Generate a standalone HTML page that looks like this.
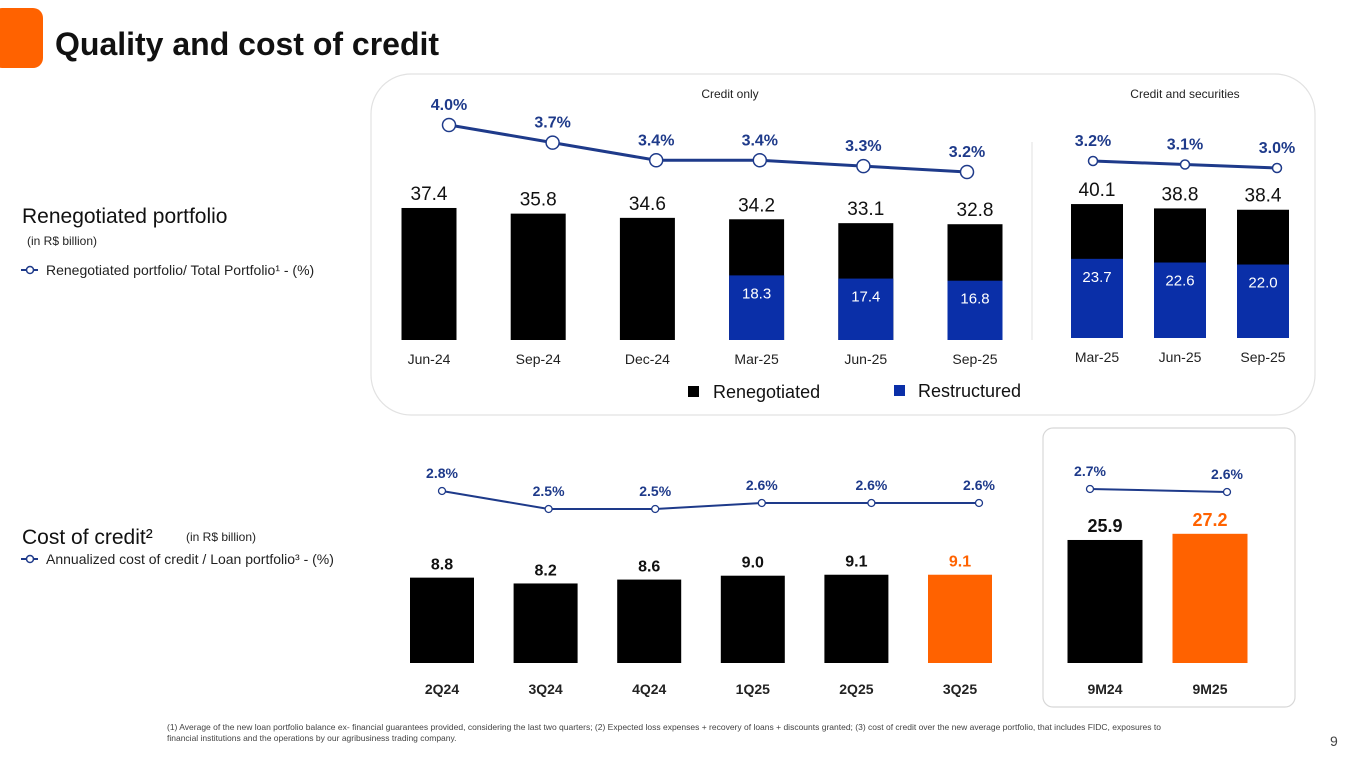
<!DOCTYPE html>
<html><head><meta charset="utf-8">
<style>
html,body{margin:0;padding:0;background:#fff;width:1365px;height:768px;overflow:hidden;font-family:"Liberation Sans","DejaVu Sans",sans-serif;}
svg{display:block}
</style></head>
<body>
<svg id="chart" width="1365" height="768" viewBox="0 0 1365 768" xmlns="http://www.w3.org/2000/svg">
  <rect x="-8" y="8" width="51" height="60" rx="10" fill="#ff6200"/>
  <text x="55" y="55" font-size="32" font-weight="bold" fill="#111">Quality and cost of credit</text>

  <text x="22" y="223" font-size="21" fill="#111">Renegotiated portfolio</text>
  <text x="27" y="245" font-size="12" fill="#222">(in R$ billion)</text>
  <g>
    <line x1="21" y1="270" x2="38" y2="270" stroke="#1e3a8a" stroke-width="2"/>
    <circle cx="30" cy="270" r="3.5" fill="#fff" stroke="#1e3a8a" stroke-width="1.5"/>
    <text x="46" y="275" font-size="14" fill="#222">Renegotiated portfolio/ Total Portfolio¹ - (%)</text>
  </g>

  <text x="22" y="544" font-size="21" fill="#111">Cost of credit²</text>
  <text x="186" y="541" font-size="12" fill="#222">(in R$ billion)</text>
  <g>
    <line x1="21" y1="559" x2="38" y2="559" stroke="#1e3a8a" stroke-width="2"/>
    <circle cx="30" cy="559" r="3.5" fill="#fff" stroke="#1e3a8a" stroke-width="1.5"/>
    <text x="46" y="564" font-size="14" fill="#222">Annualized cost of credit / Loan portfolio³ - (%)</text>
  </g>

  <rect x="371" y="74" width="944" height="341" rx="40" fill="none" stroke="#e2e2e2" stroke-width="1.2"/>
  <line x1="1032" y1="142" x2="1032" y2="340" stroke="#e0e0e0" stroke-width="1"/>
  <text x="730" y="98" font-size="12" fill="#222" text-anchor="middle">Credit only</text>
  <text x="1185" y="98" font-size="12" fill="#222" text-anchor="middle">Credit and securities</text>

  <rect x="1043" y="428" width="252" height="279" rx="10" fill="none" stroke="#d8d8d8" stroke-width="1.2"/>

  <g>
    <rect x="688" y="386" width="11" height="11" fill="#000"/>
    <text x="713" y="398" font-size="18" fill="#111">Renegotiated</text>
    <rect x="894" y="385" width="11" height="11" fill="#0a2fa8"/>
    <text x="918" y="397" font-size="18" fill="#111">Restructured</text>
  </g>

  <g id="g1"></g><g id="g2"></g><g id="g3"></g><g id="g4"></g>

  <text x="167" y="730" font-size="8.5" fill="#444"><tspan x="167">(1) Average of the new loan portfolio balance ex- financial guarantees provided, considering the last two quarters; (2) Expected loss expenses + recovery of loans + discounts granted; (3) cost of credit over the new average portfolio, that includes FIDC, exposures to</tspan><tspan x="167" dy="11">financial institutions and the operations by our agribusiness trading company.</tspan></text>
  <text x="1330" y="746" font-size="14" fill="#444">9</text>
</svg>
<script>
const renegCats = ["Jun-24","Sep-24","Dec-24","Mar-25","Jun-25","Sep-25"];
const renegTotal = [37.4,35.8,34.6,34.2,33.1,32.8];
const renegRestr = [null,null,null,18.3,17.4,16.8];
const renegPct = [4.0,3.7,3.4,3.4,3.3,3.2];

const secCats = ["Mar-25","Jun-25","Sep-25"];
const secTotal = [40.1,38.8,38.4];
const secRestr = [23.7,22.6,22.0];
const secPct = [3.2,3.1,3.0];

const costCats = ["2Q24","3Q24","4Q24","1Q25","2Q25","3Q25"];
const costVals = [8.8,8.2,8.6,9.0,9.1,9.1];
const costPct = [2.8,2.5,2.5,2.6,2.6,2.6];

const ytdCats = ["9M24","9M25"];
const ytdVals = [25.9,27.2];
const ytdPct = [2.7,2.6];

const NS="http://www.w3.org/2000/svg";
const BLUE="#0a2fa8", LBLUE="#1e3a8a", ORANGE="#ff6200";
function mk(parent,tag,attrs,text){const e=document.createElementNS(NS,tag);for(const k in attrs)e.setAttribute(k,attrs[k]);if(text!=null)e.textContent=text;parent.appendChild(e);return e;}

function drawStack(g,cats,tot,restr,pct,o){
  const xC=i=>o.x0+i*o.step;
  const xP=i=>o.lx0+i*o.lstep;
  const yB=v=>o.base-v*o.k;
  const yL=v=>o.ly0-(v-o.lv0)*o.lk;
  cats.forEach((c,i)=>{
    const b=mk(g,"rect",{x:xC(i)-o.w/2,y:yB(tot[i]),width:o.w,height:o.base-yB(tot[i]),fill:"#000"});
    
    
    const t=mk(g,"text",{x:xC(i),y:yB(tot[i])-8,"font-size":19,"text-anchor":"middle",fill:"#111"},tot[i].toFixed(1));
    
    
    if(restr[i]!=null){
      const r=mk(g,"rect",{x:xC(i)-o.w/2,y:yB(restr[i]),width:o.w,height:o.base-yB(restr[i]),fill:BLUE});
      
      
      const rt=mk(g,"text",{x:xC(i),y:yB(restr[i])+23,"font-size":15,"text-anchor":"middle",fill:"#fff"},restr[i].toFixed(1));
      
      
    }
    const xl=mk(g,"text",{x:xC(i),y:o.base+24,"font-size":14,"text-anchor":"middle",fill:"#222"},c);
    
    
  });
  let d="";pct.forEach((p,i)=>{d+=(i?"L":"M")+xP(i)+","+yL(p);});
  const ln=mk(g,"path",{d:d,fill:"none",stroke:LBLUE,"stroke-width":o.lw});
  
  
  pct.forEach((p,i)=>{
    const cc=mk(g,"circle",{cx:xP(i),cy:yL(p),r:o.r,fill:"#fff",stroke:LBLUE,"stroke-width":1.5});
    
    
    const pt=mk(g,"text",{x:xP(i),y:yL(p)-15,"font-size":16,"font-weight":"bold","text-anchor":"middle",fill:LBLUE},p.toFixed(1)+"%");
    
    
  });
}
drawStack(document.getElementById("g1"),renegCats,renegTotal,renegRestr,renegPct,
  {x0:429,step:109.2,w:55,base:340,k:3.53,ly0:172,lv0:3.2,lk:58.75,lx0:449,lstep:103.6,r:6.5,lw:3});
drawStack(document.getElementById("g2"),secCats,secTotal,secRestr,secPct,
  {x0:1097,step:83,w:52,base:338,k:3.34,ly0:168,lv0:3.0,lk:35,lx0:1093,lstep:92,r:4.5,lw:3});

function drawSimple(g,cats,vals,pct,o){
  const xC=i=>o.x0+i*o.step;
  const yB=v=>o.base-v*o.k;
  const yL=v=>o.ly0-(v-o.lv0)*o.lk;
  cats.forEach((c,i)=>{
    const last=i===cats.length-1;
    const b=mk(g,"rect",{x:xC(i)-o.w/2,y:yB(vals[i]),width:o.w,height:o.base-yB(vals[i]),fill:last?ORANGE:"#000"});
    
    
    const t=mk(g,"text",{x:xC(i),y:yB(vals[i])-8,"font-size":o.fs,"font-weight":"bold","text-anchor":"middle",fill:last?ORANGE:"#111"},vals[i].toFixed(1));
    
    
    const xl=mk(g,"text",{x:xC(i),y:o.base+31,"font-size":14,"font-weight":"bold","text-anchor":"middle",fill:"#222"},c);
    
    
  });
  let d="";pct.forEach((p,i)=>{d+=(i?"L":"M")+(xC(i)+o.lo[i])+","+yL(p);});
  const ln=mk(g,"path",{d:d,fill:"none",stroke:LBLUE,"stroke-width":2});
  
  
  pct.forEach((p,i)=>{
    const cc=mk(g,"circle",{cx:xC(i)+o.lo[i],cy:yL(p),r:3.5,fill:"#fff",stroke:LBLUE,"stroke-width":1.3});
    
    
    const pt=mk(g,"text",{x:xC(i)+o.lo[i],y:yL(p)-13,"font-size":14,"font-weight":"bold","text-anchor":"middle",fill:LBLUE},p.toFixed(1)+"%");
    
    
  });
}
drawSimple(document.getElementById("g3"),costCats,costVals,costPct,
  {x0:442,step:103.6,w:64,base:663,k:9.7,ly0:509,lv0:2.5,lk:60,lo:[0,3,6,9,15,19],fs:16});
drawSimple(document.getElementById("g4"),ytdCats,ytdVals,ytdPct,
  {x0:1105,step:105,w:75,base:663,k:4.75,ly0:492,lv0:2.6,lk:30,lo:[-15,17],fs:18});
</script>
</body></html>
